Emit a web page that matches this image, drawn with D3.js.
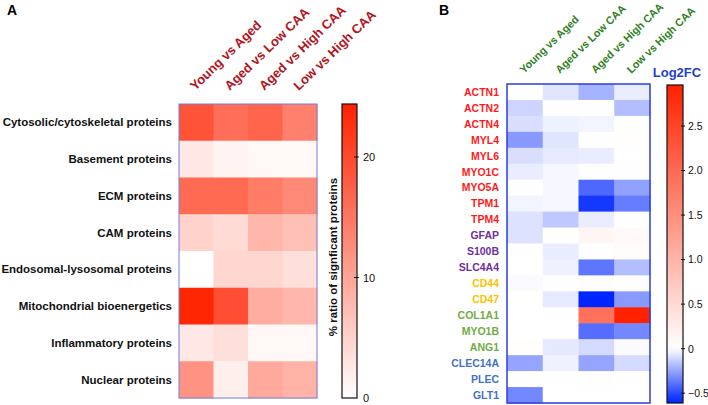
<!DOCTYPE html>
<html><head><meta charset="utf-8">
<script src="https://cdn.jsdelivr.net/npm/d3@7"></script>
<style>body{margin:0;background:#fff}svg{display:block;font-family:"Liberation Sans",Arial,sans-serif}</style>
</head><body><svg id="c" width="708" height="405"></svg>
<script>
// ---- Panel A data ----
const columnsA = ["Young vs Aged","Aged vs Low CAA","Aged vs High CAA","Low vs High CAA"];
const rowsA = ["Cytosolic/cytoskeletal proteins","Basement proteins","ECM proteins","CAM proteins","Endosomal-lysosomal proteins","Mitochondrial bioenergetics","Inflammatory proteins","Nuclear proteins"];
const valuesA = [
  [19, 16, 17, 14],
  [2.5, 1.2, 0.8, 0.8],
  [16.5, 16.5, 14.5, 13],
  [5, 4, 8, 7],
  [0, 4.5, 4.5, 3.5],
  [24, 19.5, 9, 8],
  [2.5, 3.5, 0.8, 0.8],
  [12, 1.8, 9.5, 8.5]
];
const ticksA = [0, 10, 20];
const domainA = [0, 24.4];

// ---- Panel B data ----
const columnsB = ["Young vs Aged","Aged vs Low CAA","Aged vs High CAA","Low vs High CAA"];
const genesB = ["ACTN1","ACTN2","ACTN4","MYL4","MYL6","MYO1C","MYO5A","TPM1","TPM4","GFAP","S100B","SLC4A4","CD44","CD47","COL1A1","MYO1B","ANG1","CLEC14A","PLEC","GLT1"];
const groupB = ["cyto","cyto","cyto","cyto","cyto","cyto","cyto","cyto","cyto","glia","glia","glia","cam","cam","ecm","ecm","ecm","endo","endo","endo"];
const valuesB = [
  [0, -0.07, -0.21, -0.05],
  [-0.12, 0.01, 0, -0.18],
  [-0.09, -0.04, -0.03, 0],
  [-0.28, -0.07, 0, 0.02],
  [-0.09, -0.06, -0.05, 0],
  [-0.05, -0.02, 0.01, 0.01],
  [0, -0.02, -0.42, -0.26],
  [-0.03, -0.02, -0.55, -0.36],
  [-0.08, -0.15, -0.05, 0],
  [-0.08, 0, 0.14, 0.07],
  [0, -0.05, 0.01, 0.03],
  [0, -0.04, -0.38, -0.18],
  [-0.01, 0, 0.03, 0.01],
  [0, -0.06, -0.6, -0.28],
  [0, 0, 1.9, 2.96],
  [0, 0, -0.4, -0.33],
  [0.02, -0.06, -0.1, -0.01],
  [-0.25, -0.04, -0.25, -0.1],
  [0, 0, 0.01, 0],
  [-0.33, 0, 0, 0]
];
const ticksB = [-0.5, 0, 0.5, 1.0, 1.5, 2.0, 2.5];
const domainB = [-0.61, 2.96];
const groupColors = {cyto:"#ff1a1a", glia:"#7030a0", cam:"#ffc000", ecm:"#70ad47", endo:"#4472c4"};

const svg = d3.select("#c");
const defs = svg.append("defs");

// ================= Panel A =================
const A = {x0:179, x1:317, y0:104, y1:398};
const xA = d3.scaleBand().domain(columnsA).range([A.x0, A.x1]);
const yA = d3.scaleBand().domain(rowsA).range([A.y0, A.y1]);
const colA = d3.scaleLinear().domain(domainA).range(["#ffffff","#ff2200"]).clamp(true);

const gA = svg.append("g");
rowsA.forEach((r,i)=>{
  columnsA.forEach((c,j)=>{
    gA.append("rect").attr("x",xA(c)).attr("y",yA(r))
      .attr("width",xA.bandwidth()+0.5).attr("height",yA.bandwidth()+0.5)
      .attr("fill",colA(valuesA[i][j]));
  });
});
gA.append("rect").attr("x",A.x0).attr("y",A.y0).attr("width",A.x1-A.x0).attr("height",A.y1-A.y0)
  .attr("fill","none").attr("stroke","#7080e0").attr("stroke-width",1);

rowsA.forEach(r=>{
  gA.append("text").attr("x",A.x0-7).attr("y",yA(r)+yA.bandwidth()/2).attr("dy","0.35em")
    .attr("text-anchor","end").attr("font-size","11.5px").attr("font-weight","bold").attr("fill","#111").text(r);
});
columnsA.forEach(c=>{
  const cx = xA(c)+xA.bandwidth()/2-1, cy = A.y0-13;
  gA.append("text").attr("transform",`translate(${cx},${cy}) rotate(-44)`)
    .attr("font-size","13px").attr("font-weight","bold").attr("fill","#b3141c").text(c);
});
svg.append("text").attr("x",7).attr("y",15).attr("font-size","14px").attr("font-weight","bold").text("A");

// colorbar A
const cbA = {x:342, w:15, y0:104, y1:398};
const yCA = d3.scaleLinear().domain(domainA).range([cbA.y1, cbA.y0]);
const gradA = defs.append("linearGradient").attr("id","gA").attr("x1","0").attr("y1","1").attr("x2","0").attr("y2","0");
d3.range(0,1.001,0.1).forEach(t=>gradA.append("stop").attr("offset",t).attr("stop-color",colA(domainA[0]+t*(domainA[1]-domainA[0]))));
svg.append("rect").attr("x",cbA.x).attr("y",cbA.y0).attr("width",cbA.w).attr("height",cbA.y1-cbA.y0)
  .attr("fill","url(#gA)").attr("stroke","#111").attr("stroke-width",1.2);
const axA = d3.axisRight(yCA).tickValues(ticksA).tickSize(0).tickPadding(6).tickFormat(d3.format("d"));
const gAx = svg.append("g").attr("transform",`translate(${cbA.x+cbA.w},0)`).call(axA);
gAx.select(".domain").remove();
gAx.attr("color","#111");
gAx.selectAll("text").attr("fill","#111").style("fill","#111").attr("font-size","11px").attr("font-family","Liberation Sans, Arial, sans-serif");
ticksA.filter(t=>t>0).forEach(t=>{
  svg.append("line").attr("x1",cbA.x+cbA.w-3).attr("x2",cbA.x+cbA.w+2).attr("y1",yCA(t)).attr("y2",yCA(t)).attr("stroke","#111");
});
svg.append("text").attr("transform",`translate(337,${(cbA.y0+cbA.y1)/2+6}) rotate(-90)`)
  .attr("text-anchor","middle").attr("font-size","11.5px").attr("font-weight","bold").attr("fill","#111")
  .text("% ratio of signficant proteins");

// ================= Panel B =================
const B = {x0:507, x1:650, y0:84, y1:403};
const xB = d3.scaleBand().domain(columnsB).range([B.x0, B.x1]);
const yB = d3.scaleBand().domain(genesB).range([B.y0, B.y1]);
const colB = d3.scaleLinear().domain([-0.6, 0, 2.96]).range(["#0026ff","#ffffff","#ff2200"]).clamp(true);

const gB = svg.append("g");
genesB.forEach((g,i)=>{
  columnsB.forEach((c,j)=>{
    gB.append("rect").attr("x",xB(c)).attr("y",yB(g))
      .attr("width",xB.bandwidth()+0.5).attr("height",yB.bandwidth()+0.5)
      .attr("fill",colB(valuesB[i][j]));
  });
  gB.append("text").attr("x",B.x0-8).attr("y",yB(g)+yB.bandwidth()/2).attr("dy","0.36em")
    .attr("text-anchor","end").attr("font-size","10.5px").attr("font-weight","bold")
    .attr("fill",groupColors[groupB[i]]).text(g);
});
gB.append("rect").attr("x",B.x0).attr("y",B.y0).attr("width",B.x1-B.x0).attr("height",B.y1-B.y0)
  .attr("fill","none").attr("stroke","#2b3fe0").attr("stroke-width",1.5);
columnsB.forEach(c=>{
  const cx = xB(c)+xB.bandwidth()/2-1, cy = B.y0-10;
  gB.append("text").attr("transform",`translate(${cx},${cy}) rotate(-44)`)
    .attr("font-size","10.8px").attr("font-weight","bold").attr("fill","#2f7f22").text(c);
});
svg.append("text").attr("x",439).attr("y",15).attr("font-size","14px").attr("font-weight","bold").text("B");

// colorbar B
const cbB = {x:667, w:16, y0:85, y1:403};
const yCB = d3.scaleLinear().domain(domainB).range([cbB.y1, cbB.y0]);
const gradB = defs.append("linearGradient").attr("id","gB").attr("x1","0").attr("y1","1").attr("x2","0").attr("y2","0");
d3.range(0,1.001,0.02).forEach(t=>gradB.append("stop").attr("offset",t).attr("stop-color",colB(domainB[0]+t*(domainB[1]-domainB[0]))));
svg.append("rect").attr("x",cbB.x).attr("y",cbB.y0).attr("width",cbB.w).attr("height",cbB.y1-cbB.y0)
  .attr("fill","url(#gB)").attr("stroke","#111").attr("stroke-width",1.2);
const axB = d3.axisRight(yCB).tickValues(ticksB).tickSize(0).tickPadding(5)
  .tickFormat(d=> d===0 ? "0" : d3.format(".1f")(d));
const gBx = svg.append("g").attr("transform",`translate(${cbB.x+cbB.w},0)`).call(axB);
gBx.select(".domain").remove();
gBx.attr("color","#111");
gBx.selectAll("text").attr("fill","#111").style("fill","#111").attr("font-size","10.5px").attr("font-family","Liberation Sans, Arial, sans-serif");
ticksB.forEach(t=>{
  svg.append("line").attr("x1",cbB.x+cbB.w-2).attr("x2",cbB.x+cbB.w+2).attr("y1",yCB(t)).attr("y2",yCB(t)).attr("stroke","#111");
});
svg.append("text").attr("x",677).attr("y",77).attr("text-anchor","middle")
  .attr("font-size","13px").attr("font-weight","bold").attr("fill","#1f3fd0").text("Log2FC");
</script></body></html>
